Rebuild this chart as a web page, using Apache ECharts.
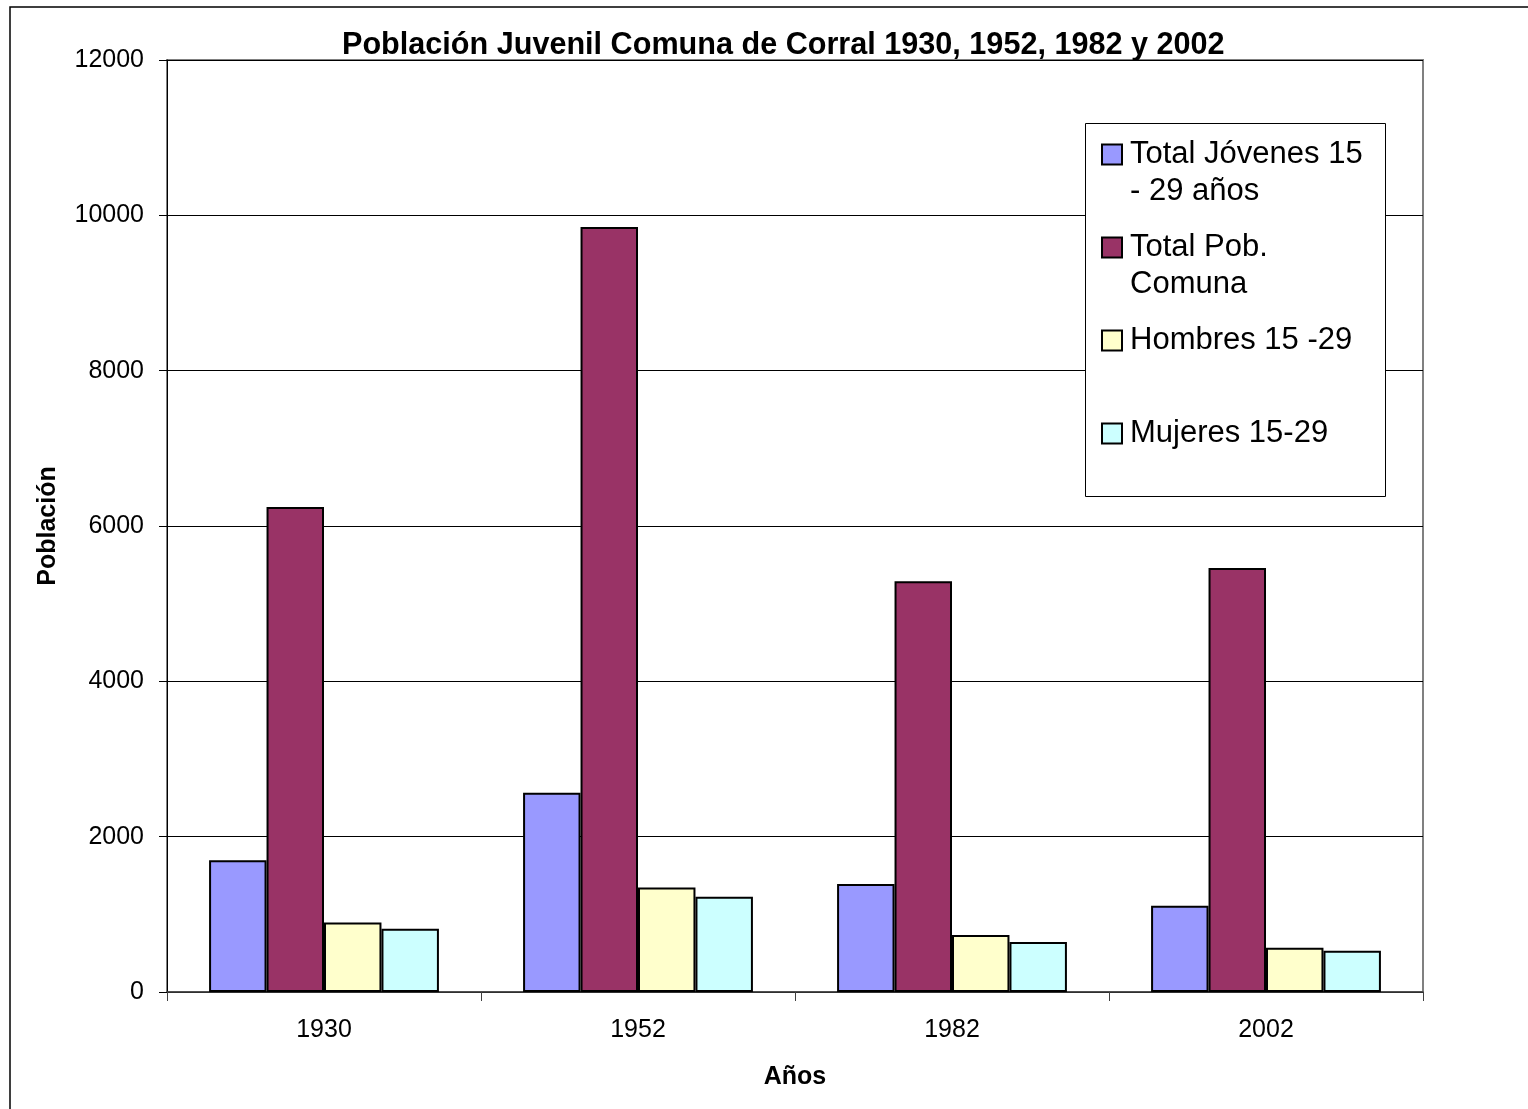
<!DOCTYPE html>
<html>
<head>
<meta charset="utf-8">
<script src="https://cdn.jsdelivr.net/npm/echarts@6/dist/echarts.min.js"></script>
<style>
  html, body { margin: 0; padding: 0; background: #fff; }
  #chart { width: 1528px; height: 1109px; }
</style>
</head>
<body>
<div id="chart"></div>
<script>
// datos del gráfico
const years = ['1930', '1952', '1982', '2002']
const jovenes = [1695, 2565, 1390, 1110]
const totalComuna = [6245, 9850, 5290, 5460]
const hombres = [895, 1345, 735, 570]
const mujeres = [815, 1225, 645, 530]

const seriesNames = ['Total Jóvenes 15 - 29 años', 'Total Pob. Comuna', 'Hombres 15 -29', 'Mujeres 15-29']
// texto de la leyenda: línea vacía arriba para que el icono quede junto a la primera línea
const legendText = {
  'Total Jóvenes 15 - 29 años': ' \nTotal Jóvenes 15\n- 29 años',
  'Total Pob. Comuna': ' \nTotal Pob.\nComuna',
  'Hombres 15 -29': ' \nHombres 15 -29\n ',
  'Mujeres 15-29': ' \nMujeres 15-29\n '
}
const colors = ['#9999FF', '#993366', '#FFFFCC', '#CCFFFF']

const chart = echarts.init(document.getElementById('chart'))

const makeBar = (name, data, i) => ({
  name: name,
  type: 'bar',
  data: data,
  barGap: '0%',
  barCategoryGap: '26.8%',
  itemStyle: {
    color: colors[i],
    borderColor: '#000',
    borderWidth: 2
  }
})

const option = {
  animation: false,
  textStyle: { fontFamily: 'Liberation Sans, Arial, sans-serif' },
  title: {
    text: 'Población Juvenil Comuna de Corral 1930, 1952, 1982 y 2002',
    left: 342,
    top: 30,
    padding: 0,
    textStyle: { fontSize: 30.6, fontWeight: 'bold', color: '#000', fontFamily: 'Liberation Sans, Arial, sans-serif' }
  },
  graphic: [
    {
      type: 'rect',
      shape: { x: 10, y: 7, width: 1540, height: 1130 },
      style: { fill: 'none', stroke: '#000', lineWidth: 1.5 },
      z: -10
    },
    {
      type: 'rect',
      shape: { x: 1085.5, y: 123.5, width: 300, height: 373 },
      style: { fill: '#fff', stroke: '#000', lineWidth: 1 },
      z: 5
    }
  ],
  legend: {
    orient: 'vertical',
    left: 1101,
    top: 99,
    padding: 0,
    itemWidth: 20,
    itemHeight: 20,
    itemGap: -18,
    icon: 'rect',
    z: 10,
    data: seriesNames,
    formatter: (name) => legendText[name],
    itemStyle: { borderColor: '#000', borderWidth: 2 },
    textStyle: {
      fontSize: 31,
      lineHeight: 37,
      color: '#000',
      padding: [0, 0, 0, 3],
      fontFamily: 'Liberation Sans, Arial, sans-serif'
    }
  },
  grid: {
    left: 167,
    right: 105,
    top: 60,
    bottom: 117,
    show: true,
    borderColor: '#808080',
    borderWidth: 2
  },
  xAxis: {
    type: 'category',
    data: years,
    name: 'Años',
    nameLocation: 'middle',
    nameGap: 73,
    nameTextStyle: { fontSize: 25, fontWeight: 'bold', color: '#000' },
    axisLine: { lineStyle: { color: '#404040', width: 1.5 } },
    axisTick: { show: true, length: 9, interval: 0, lineStyle: { color: '#404040' } },
    axisLabel: { fontSize: 25, color: '#000', margin: 26 }
  },
  yAxis: {
    type: 'value',
    min: 0,
    max: 12000,
    interval: 2000,
    name: 'Población',
    nameLocation: 'middle',
    nameGap: 106,
    nameTextStyle: { fontSize: 25, fontWeight: 'bold', color: '#000' },
    axisLine: { show: true, lineStyle: { color: '#000', width: 1 } },
    axisTick: { show: true, length: 8, lineStyle: { color: '#000' } },
    axisLabel: { fontSize: 25, color: '#000', margin: 23, formatter: (v) => String(v) },
    splitLine: { lineStyle: { color: '#000', width: 1 } }
  },
  series: [
    makeBar(seriesNames[0], jovenes, 0),
    makeBar(seriesNames[1], totalComuna, 1),
    makeBar(seriesNames[2], hombres, 2),
    makeBar(seriesNames[3], mujeres, 3)
  ]
}

chart.setOption(option)
</script>
</body>
</html>
